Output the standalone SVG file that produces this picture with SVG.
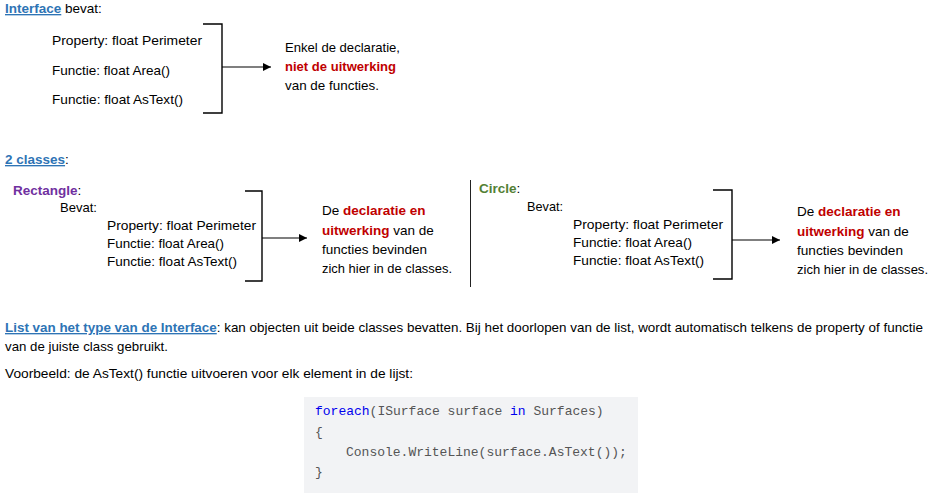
<svg xmlns="http://www.w3.org/2000/svg" width="939" height="497" viewBox="0 0 939 497">
<style>
text{font-family:"Liberation Sans",Arial,sans-serif;font-size:13.5px;fill:#000}
.h{fill:#2e74b5;font-weight:bold;text-decoration:underline}
.red{fill:#c00000;font-weight:bold}
.pur{fill:#7030a0;font-weight:bold}
.grn{fill:#538135;font-weight:bold}
.br{fill:none;stroke:#000;stroke-width:1.4}
.ar{fill:none;stroke:#000;stroke-width:1.2}
.code{font-family:"Liberation Mono","DejaVu Sans Mono",monospace;font-size:13px;fill:#555}
.kw{fill:#0000ee}
</style>
<defs>
<marker id="ah" viewBox="0 0 10 10" refX="10" refY="5" markerWidth="8" markerHeight="8" markerUnits="userSpaceOnUse" orient="auto">
<path d="M0,0 L10,5 L0,10 z" fill="#000"/>
</marker>
</defs>
<rect width="939" height="497" fill="#fff"/>

<g id="interface-section">
<text x="5" y="13"><tspan class="h">Interface</tspan> bevat:</text>
</g>
<g id="interface-members">
<text x="52" y="45" textLength="150" lengthAdjust="spacingAndGlyphs">Property: float Perimeter</text>
<text x="52" y="75" textLength="118" lengthAdjust="spacingAndGlyphs">Functie: float Area()</text>
<text x="52" y="104" textLength="131" lengthAdjust="spacingAndGlyphs">Functie: float AsText()</text>
</g>
<g id="interface-note">
<text x="285" y="52" textLength="115" lengthAdjust="spacingAndGlyphs">Enkel de declaratie,</text>
<text x="285" y="71" class="red" textLength="111" lengthAdjust="spacingAndGlyphs">niet de uitwerking</text>
<text x="285" y="90" textLength="94" lengthAdjust="spacingAndGlyphs">van de functies.</text>
</g>

<g id="classes-heading">
<text x="5" y="164"><tspan class="h">2 classes</tspan>:</text>
</g>

<g id="rectangle">
<text x="13" y="195"><tspan class="pur">Rectangle</tspan>:</text>
<text x="60" y="212" textLength="37" lengthAdjust="spacingAndGlyphs">Bevat:</text>
<text x="107" y="230" textLength="149" lengthAdjust="spacingAndGlyphs">Property: float Perimeter</text>
<text x="107" y="248" textLength="117" lengthAdjust="spacingAndGlyphs">Functie: float Area()</text>
<text x="107" y="266" textLength="130" lengthAdjust="spacingAndGlyphs">Functie: float AsText()</text>
</g>
<g id="rectangle-note">
<text x="322" y="215">De <tspan class="red">declaratie en</tspan></text>
<text x="322" y="235"><tspan class="red">uitwerking</tspan> van de</text>
<text x="322" y="254" textLength="105" lengthAdjust="spacingAndGlyphs">functies bevinden</text>
<text x="322" y="273" textLength="130" lengthAdjust="spacingAndGlyphs">zich hier in de classes.</text>
</g>

<g id="circle">
<text x="479" y="193"><tspan class="grn">Circle</tspan>:</text>
<text x="527" y="211" textLength="36" lengthAdjust="spacingAndGlyphs">Bevat:</text>
<text x="573" y="229" textLength="150" lengthAdjust="spacingAndGlyphs">Property: float Perimeter</text>
<text x="573" y="247" textLength="119" lengthAdjust="spacingAndGlyphs">Functie: float Area()</text>
<text x="573" y="265" textLength="131" lengthAdjust="spacingAndGlyphs">Functie: float AsText()</text>
</g>
<g id="circle-note">
<text x="797" y="216">De <tspan class="red">declaratie en</tspan></text>
<text x="797" y="236"><tspan class="red">uitwerking</tspan> van de</text>
<text x="797" y="255" textLength="106" lengthAdjust="spacingAndGlyphs">functies bevinden</text>
<text x="797" y="274" textLength="131" lengthAdjust="spacingAndGlyphs">zich hier in de classes.</text>
</g>

<g id="connectors">
<path class="br" d="M203,24 H222 V113 H203"/>
<line class="ar" x1="222" y1="67" x2="271" y2="67" marker-end="url(#ah)"/>
<path class="br" d="M245,191 H262 V281 H245"/>
<line class="ar" x1="262" y1="238" x2="307" y2="238" marker-end="url(#ah)"/>
<path class="br" d="M713,190 H732 V279 H713"/>
<line class="ar" x1="732" y1="240" x2="780" y2="240" marker-end="url(#ah)"/>
<line x1="470.5" y1="180" x2="470.5" y2="287" stroke="#222" stroke-width="1"/>
</g>

<g id="list-text">
<text x="5" y="332" textLength="918" lengthAdjust="spacingAndGlyphs"><tspan class="h">List van het type van de Interface</tspan>: kan objecten uit beide classes bevatten. Bij het doorlopen van de list, wordt automatisch telkens de property of functie</text>
<text x="5" y="351" textLength="163" lengthAdjust="spacingAndGlyphs">van de juiste class gebruikt.</text>
<text x="5" y="378" textLength="408" lengthAdjust="spacingAndGlyphs">Voorbeeld: de AsText() functie uitvoeren voor elk element in de lijst:</text>
</g>

<g id="code-block">
<rect x="304" y="397" width="334" height="96" fill="#f2f3f5"/>
<text x="315" y="415" class="code"><tspan class="kw">foreach</tspan>(ISurface surface <tspan class="kw">in</tspan> Surfaces)</text>
<text x="315" y="436" class="code">{</text>
<text x="346" y="456" class="code">Console.WriteLine(surface.AsText());</text>
<text x="315" y="476" class="code">}</text>
</g>
</svg>
